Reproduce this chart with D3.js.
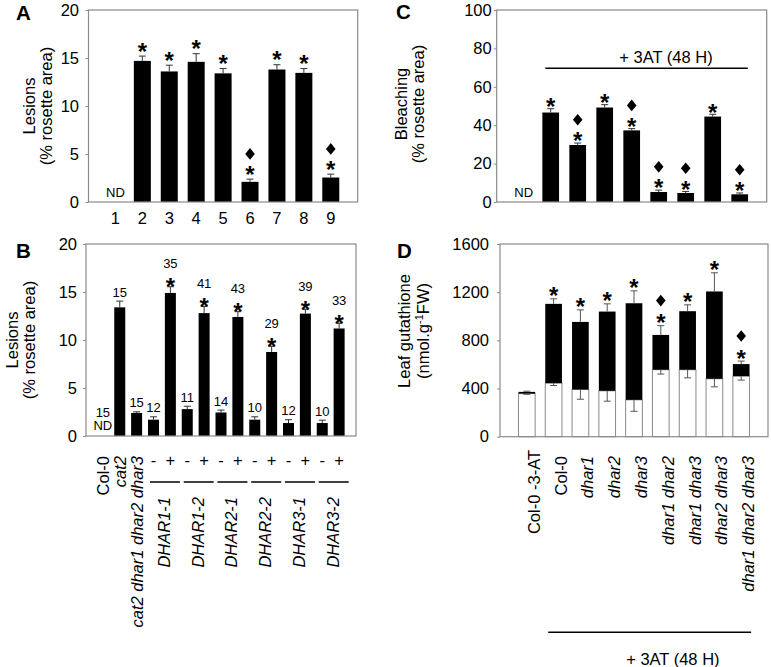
<!DOCTYPE html>
<html><head><meta charset="utf-8">
<script src="https://cdn.jsdelivr.net/npm/d3@7"></script>
<style>body{margin:0;background:#fff}svg{display:block}</style>
</head><body><svg id="c" width="771" height="667"></svg>
<script>
// ---------- Panel A ----------
const aLabels = ["1","2","3","4","5","6","7","8","9"];
const aMean = [0,14.7,13.6,14.6,13.4,2.1,13.8,13.45,2.55];
const aErr  = [0,0.5,0.65,0.85,0.5,0.28,0.5,0.45,0.35];
const aStar = [0,1,1,1,1,1,1,1,1];
const aDiam = [0,0,0,0,0,1,0,0,1];
const aTicks = [0,5,10,15,20];

// ---------- Panel B ----------
const bTop3 = ["Col-0","cat2","cat2 dhar1 dhar2 dhar3"];
const bMean = [0,13.4,2.4,1.7,14.9,2.8,12.8,2.45,12.4,1.7,8.75,1.35,12.75,1.35,11.2];
const bErr  = [0,0.65,0.12,0.3,0.65,0.3,0.7,0.25,0.55,0.3,0.6,0.35,0.45,0.3,0.55];
const bN    = [15,15,15,12,35,11,41,14,43,10,29,12,39,10,33];
const bStar = [0,0,0,0,1,0,1,0,1,0,1,0,1,0,1];
const bGroups = ["DHAR1-1","DHAR1-2","DHAR2-1","DHAR2-2","DHAR3-1","DHAR3-2"];
const bSigns = ["-","+"];
const bTicks = [0,5,10,15,20];

// ---------- Panel C ----------
const cMean = [0,46.6,29.7,49.2,37.3,5.2,4.7,44.5,4.0];
const cErr  = [0,2.0,1.0,1.5,0.9,1.0,0.8,1.2,0.7];
const cStar = [0,1,1,1,1,1,1,1,1];
const cDiam = [0,0,1,0,1,1,1,0,1];
const cTicks = [0,20,40,60,80,100];

// ---------- Panel D ----------
const dLabels = ["Col-0  -3-AT","Col-0","dhar1","dhar2","dhar3","dhar1 dhar2","dhar1 dhar3","dhar2 dhar3","dhar1 dhar2 dhar3"];
const dWhite    = [358,445,392,381,306,556,556,481,503];
const dWhiteErr = [6,20,81,86,95,36,67,67,33];
const dTotal    = [372,1103,953,1039,1108,845,1042,1206,603];
const dTotalErr = [6,42,100,64,103,77,53,155,25];
const dStar = [0,1,1,1,1,1,1,1,1];
const dDiam = [0,0,0,0,0,1,0,0,1];
const dTicks = [0,400,800,1200,1600];

const FONT = '"Liberation Sans", Arial, Helvetica, sans-serif';
const FS = 16.5;
const GRAY = '#8a8a8a';
const svg = d3.select('#c');

function makePanel(p) {
  const x = d3.scaleLinear().domain([0, p.n + 1]).range([p.left, p.right]);
  const y = d3.scaleLinear().domain([0, p.yMax]).range([p.bottom, p.top]);
  const g = svg.append('g');
  const ax = d3.axisLeft(y).tickValues(p.ticks).tickSize(3).tickPadding(p.gap - 3).tickFormat(d3.format('d'));
  const ag = g.append('g').attr('transform', `translate(${p.left},0)`).call(ax);
  ag.select('.domain').remove();
  ag.selectAll('line').attr('stroke', GRAY).attr('stroke-width', 1);
  ag.selectAll('text').attr('font-size', FS).attr('font-family', FONT).attr('fill', '#000');
  g.append('text').attr('x', p.letterX).attr('y', p.letterY).text(p.letter)
    .attr('font-family', FONT).attr('font-weight', 'bold').attr('font-size', 20.5);
  const t = g.append('text').attr('font-family', FONT).attr('font-size', FS)
    .attr('text-anchor', 'middle')
    .attr('transform', `translate(${p.titleX},${p.titleY}) rotate(-90)`);
  p.title(t);
  return { x, y, g, p };
}

function frame(P) {
  const { g, p } = P;
  g.append('rect').attr('x', p.left).attr('y', p.top).attr('width', p.right - p.left)
    .attr('height', p.bottom - p.top).attr('fill', 'none').attr('stroke', GRAY).attr('stroke-width', 1.2);
}

function bars(P, vals, bw) {
  const { x, y, g } = P;
  g.append('g').selectAll('rect').data(vals.map((v, i) => ({ v, i })).filter(d => d.v > 0)).join('rect')
    .attr('x', d => x(d.i + 1) - bw / 2).attr('width', bw)
    .attr('y', d => y(d.v)).attr('height', d => y(0) - y(d.v)).attr('fill', '#000');
}

function errBars(P, vals, errs, dir, color) {
  const { x, y, g } = P;
  const data = vals.map((v, i) => ({ v, e: errs[i], i })).filter(d => d.v > 0);
  const eg = g.append('g').attr('stroke', color).attr('stroke-width', 1);
  eg.selectAll('line.v').data(data).join('line').attr('class', 'v')
    .attr('x1', d => x(d.i + 1)).attr('x2', d => x(d.i + 1))
    .attr('y1', d => y(d.v)).attr('y2', d => y(d.v + dir * d.e));
  eg.selectAll('line.c').data(data).join('line').attr('class', 'c')
    .attr('x1', d => x(d.i + 1) - 3.5).attr('x2', d => x(d.i + 1) + 3.5)
    .attr('y1', d => y(d.v + dir * d.e)).attr('y2', d => y(d.v + dir * d.e));
}

const STAR_FS = 24;
function starTopOf(bottom) { return bottom - 0.31 * STAR_FS; }
function marks(P, tops, stars, diams, gapS, gapD) {
  const { x, y, g } = P;
  tops.forEach((t, i) => {
    if (!stars[i]) return;
    const cx = x(i + 1);
    const sb = y(t) - gapS;
    g.append('text').attr('x', cx).attr('y', sb + 0.406 * STAR_FS).text('*')
      .attr('text-anchor', 'middle').attr('font-family', FONT).attr('font-weight', 'bold')
      .attr('font-size', STAR_FS);
    if (diams && diams[i]) {
      const hh = 5.8, hw = 4.8;
      const db = starTopOf(sb) - gapD;
      const cy = db - hh;
      g.append('path').attr('d', `M${cx},${cy - hh}L${cx + hw},${cy}L${cx},${cy + hh}L${cx - hw},${cy}Z`)
        .attr('fill', '#000');
    }
  });
}

function ndLabel(P, xi, yb) {
  P.g.append('text').attr('x', P.x(xi)).attr('y', yb).text('ND').attr('text-anchor', 'middle')
    .attr('font-family', FONT).attr('font-size', 13);
}

// ================= A =================
const A = makePanel({ n: 9, left: 88.5, right: 357.7, top: 10, bottom: 202, yMax: 20, ticks: aTicks, gap: 9.5,
  letter: 'A', letterX: 16, letterY: 19.5, titleX: 35, titleY: 106,
  title: t => { t.append('tspan').attr('x', 0).attr('dy', 0).text('Lesions');
                t.append('tspan').attr('x', 0).attr('dy', 16.5).text('(% rosette area)'); } });
bars(A, aMean, 17);
errBars(A, aMean, aErr, 1, '#333');
frame(A);
marks(A, aMean.map((v, i) => v + aErr[i]), aStar, aDiam, 6, 6);
ndLabel(A, 1, 197);
A.g.append('g').selectAll('text').data(aLabels).join('text')
  .attr('x', (d, i) => A.x(i + 1)).attr('y', 224).text(d => d).attr('text-anchor', 'middle')
  .attr('font-family', FONT).attr('font-size', FS);

// ================= B =================
const B = makePanel({ n: 15, left: 86, right: 356, top: 244, bottom: 436, yMax: 20, ticks: bTicks, gap: 9,
  letter: 'B', letterX: 16, letterY: 258, titleX: 18, titleY: 340,
  title: t => { t.append('tspan').attr('x', 0).attr('dy', 0).text('Lesions');
                t.append('tspan').attr('x', 0).attr('dy', 16.5).text('(% rosette area)'); } });
bars(B, bMean, 11);
errBars(B, bMean, bErr, 1, '#333');
frame(B);
marks(B, bMean.map((v, i) => v + bErr[i]), bStar, null, 1, 0);
bN.forEach((n, i) => {
  const top = bMean[i] > 0 ? B.y(bMean[i] + bErr[i]) : 421;
  const yb = bStar[i] ? starTopOf(top - 1) - 10 : top - 4.5;
  B.g.append('text').attr('x', B.x(i + 1)).attr('y', yb).text(n).attr('text-anchor', 'middle')
    .attr('font-family', FONT).attr('font-size', 13);
});
ndLabel(B, 1, 430);
bTop3.forEach((s, i) => {
  B.g.append('text').attr('transform', `translate(${B.x(i + 1) + 6},456) rotate(-90)`)
    .attr('text-anchor', 'end').attr('font-family', FONT).attr('font-size', FS)
    .attr('font-style', i === 0 ? 'normal' : 'italic').text(s);
});
bGroups.forEach((s, k) => {
  const xm = B.x(4 + 2 * k), xp = B.x(5 + 2 * k), c = (xm + xp) / 2;
  [xm, xp].forEach((xx, j) => B.g.append('text').attr('x', xx).attr('y', 465.5).text(bSigns[j])
    .attr('text-anchor', 'middle').attr('font-family', FONT).attr('font-size', FS));
  B.g.append('line').attr('x1', c - 12).attr('x2', c + 18).attr('y1', 482).attr('y2', 482)
    .attr('stroke', '#000').attr('stroke-width', 1.5);
  B.g.append('text').attr('transform', `translate(${c + 8},497) rotate(-90)`)
    .attr('text-anchor', 'end').attr('font-family', FONT).attr('font-size', FS)
    .attr('font-style', 'italic').text(s);
});

// ================= C =================
const C = makePanel({ n: 9, left: 496.7, right: 766.7, top: 10, bottom: 202, yMax: 100, ticks: cTicks, gap: 5,
  letter: 'C', letterX: 396, letterY: 19, titleX: 407, titleY: 104,
  title: t => { t.append('tspan').attr('x', 0).attr('dy', 0).text('Bleaching');
                t.append('tspan').attr('x', 0).attr('dy', 16.5).text('(% rosette area)'); } });
bars(C, cMean, 16.7);
errBars(C, cMean, cErr, 1, '#333');
frame(C);
marks(C, cMean.map((v, i) => v + cErr[i]), cStar, cDiam, 3.5, 6.5);
ndLabel(C, 1, 197);
C.g.append('line').attr('x1', C.x(1.8)).attr('x2', C.x(9.3)).attr('y1', 68.3).attr('y2', 68.3)
  .attr('stroke', '#000').attr('stroke-width', 1.5);
C.g.append('text').attr('x', C.x(6.27)).attr('y', 63).text('+ 3AT (48 H)').attr('text-anchor', 'middle')
  .attr('font-family', FONT).attr('font-size', FS);

// ================= D =================
const D = makePanel({ n: 9, left: 500, right: 768, top: 244, bottom: 436.7, yMax: 1600, ticks: dTicks, gap: 11,
  letter: 'D', letterX: 397, letterY: 258, titleX: 410, titleY: 331,
  title: t => { t.append('tspan').attr('x', 0).attr('dy', 0).text('Leaf gutathione');
                t.append('tspan').attr('x', 0).attr('dy', 18.5).text('(nmol.g');
                t.append('tspan').attr('font-size', 11).attr('dy', -6).text('-1');
                t.append('tspan').attr('dy', 6).text('FW)'); } });
const dbw = 16.7;
D.g.append('g').selectAll('rect').data(dWhite).join('rect')
  .attr('x', (d, i) => D.x(i + 1) - dbw / 2).attr('width', dbw)
  .attr('y', d => D.y(d)).attr('height', d => D.y(0) - D.y(d))
  .attr('fill', '#fff').attr('stroke', GRAY).attr('stroke-width', 1);
D.g.append('g').selectAll('rect').data(dTotal).join('rect')
  .attr('x', (d, i) => D.x(i + 1) - dbw / 2).attr('width', dbw)
  .attr('y', d => D.y(d)).attr('height', (d, i) => D.y(dWhite[i]) - D.y(d))
  .attr('fill', '#000');
errBars(D, dWhite, dWhiteErr, -1, '#555');
errBars(D, dTotal, dTotalErr, 1, '#555');
frame(D);
marks(D, dTotal.map((v, i) => v + dTotalErr[i]), dStar, dDiam, 4.3, 7.5);
dLabels.forEach((s, i) => {
  D.g.append('text').attr('transform', `translate(${D.x(i + 1) + 13},${i === 0 ? 450 : 456}) rotate(-90)`)
    .attr('text-anchor', 'end').attr('font-family', FONT).attr('font-size', FS)
    .attr('font-style', s.startsWith('dhar') ? 'italic' : 'normal').text(s);
});
D.g.append('line').attr('x1', D.x(1.8)).attr('x2', D.x(9.37)).attr('y1', 632.3).attr('y2', 632.3)
  .attr('stroke', '#000').attr('stroke-width', 1.5);
D.g.append('text').attr('x', D.x(6.45)).attr('y', 665).text('+ 3AT (48 H)').attr('text-anchor', 'middle')
  .attr('font-family', FONT).attr('font-size', FS);
</script></body></html>
